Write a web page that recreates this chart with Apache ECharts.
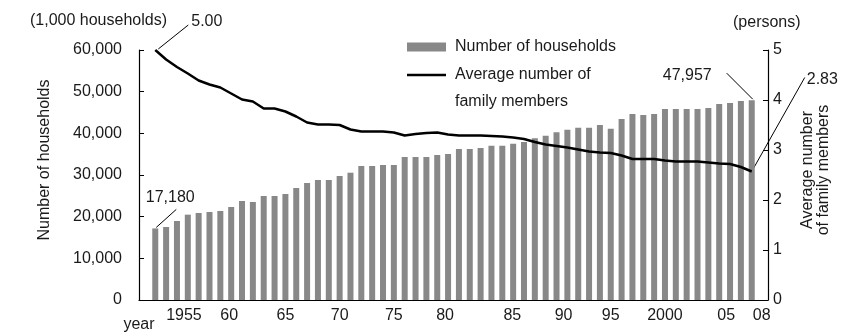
<!DOCTYPE html>
<html><head><meta charset="utf-8">
<script src="https://cdn.jsdelivr.net/npm/echarts@6/dist/echarts.min.js"></script>
<style>html,body{margin:0;padding:0;background:#fff}#c{width:846px;height:334px}</style>
</head><body><div id="c"></div>
<script>
const years = [];
for (let y = 1953; y <= 2008; y++) years.push(y);
const households = [17180,17520,18960,20480,20880,21120,21360,22320,23760,23520,
  24960,24960,25440,26880,28080,28800,28800,29760,30550,32160,
  32160,32400,32400,34320,34320,34320,34800,35040,36240,36240,
  36480,37030,37030,37510,37920,38800,39430,40250,40880,41360,
  41360,42000,41120,43440,44640,44400,44640,45840,45840,45840,
  45840,46080,47040,47280,47760,47957];
const members = [5.00,4.81,4.66,4.53,4.39,4.31,4.25,4.13,4.01,3.97,
  3.83,3.83,3.77,3.67,3.55,3.51,3.51,3.50,3.41,3.37,
  3.37,3.37,3.35,3.29,3.32,3.34,3.35,3.31,3.29,3.29,
  3.29,3.28,3.27,3.25,3.22,3.16,3.11,3.08,3.05,3.01,
  2.97,2.95,2.94,2.89,2.82,2.82,2.82,2.79,2.77,2.77,
  2.77,2.75,2.73,2.72,2.66,2.57];
const labelYears = [1955,1960,1965,1970,1975,1980,1985,1990,1995,2000,2005,2008];
const tickLabels = ['1955','60','65','70','75','80','85','90','95','2000','05','08'];
const leftTicks = [0,10000,20000,30000,40000,50000,60000];
const rightTicks = [0,1,2,3,4,5];
const annot = {first:'17,180', last:'47,957', firstAvg:'5.00', lastAvg:'2.83'};

// small horizontal nudges of the year labels, as in the source figure (px)
const labelNudge = {'1955': 7, '60': -2, '80': -3, '85': 10, '90': 7, '05': 7, '08': 10};

const FONT = "'Liberation Sans', Arial, sans-serif";
const TXT = '#1a1a1a';
const cats = [String(years[0]-1)].concat(years.map(String), [String(years[years.length-1]+1)]);
const barData = ['-'].concat(households, ['-']);
const lineData = ['-'].concat(members, ['-']);

const rich = {};
Object.keys(labelNudge).forEach((k, i) => {
  const d = labelNudge[k];
  rich['n' + i] = {fontFamily: FONT, fontSize: 16, color: TXT,
    padding: d > 0 ? [0, 0, 0, 2*d] : [0, -2*d, 0, 0]};
});
const nudgeKeys = Object.keys(labelNudge);

const chart = echarts.init(document.getElementById('c'));
chart.setOption({
  animation: false,
  textStyle: {fontFamily: FONT, color: TXT},
  grid: {left: 139, right: 78, top: 50, bottom: 34},
  legend: {
    left: 407, top: 38, padding: 0, orient: 'vertical', itemWidth: 39, itemHeight: 9, itemGap: 10,
    textStyle: {fontFamily: FONT, fontSize: 16, color: TXT, lineHeight: 18, padding: [0,0,0,4]},
    data: [
      {name: 'Number of households', icon: 'rect'},
      {name: 'Average number of family members', icon: 'path://M0 0H39V2.6H0Z'}
    ],
    formatter: n => n === 'Average number of family members' ? 'Average number of' : n
  },
  xAxis: {
    type: 'category', data: cats, boundaryGap: true,
    axisLine: {lineStyle: {color: '#000', width: 1.2}},
    axisTick: {show: false},
    axisLabel: {
      fontFamily: FONT, fontSize: 16, color: TXT, margin: 8,
      interval: (i, v) => labelYears.indexOf(+v) >= 0,
      formatter: v => {
        const k = labelYears.indexOf(+v);
        if (k < 0) return '';
        const t = tickLabels[k];
        const j = nudgeKeys.indexOf(t);
        return j >= 0 ? '{n' + j + '|' + t + '}' : t;
      },
      rich
    }
  },
  yAxis: [{
    type: 'value', min: leftTicks[0], max: leftTicks[leftTicks.length-1], interval: 10000,
    name: 'Number of households', nameLocation: 'middle', nameGap: 86, nameRotate: 90,
    nameTextStyle: {fontFamily: FONT, fontSize: 16, color: TXT, padding: [0,0,0,30]},
    axisLine: {show: true, lineStyle: {color: '#000', width: 1.2}},
    axisTick: {show: true, inside: true, length: 5, lineStyle: {color: '#000'}},
    splitLine: {show: false},
    axisLabel: {fontFamily: FONT, fontSize: 16, color: TXT, margin: 17,
      formatter: v => v.toLocaleString('en-US')}
  }, {
    type: 'value', min: rightTicks[0], max: rightTicks[rightTicks.length-1], interval: 1,
    position: 'right',
    name: 'Average number\nof family members', nameLocation: 'middle', nameGap: 32, nameRotate: 90,
    nameTextStyle: {fontFamily: FONT, fontSize: 16, color: TXT, lineHeight: 16, padding: [0,0,0,10]},
    axisLine: {show: true, lineStyle: {color: '#000', width: 1.2}},
    axisTick: {show: true, inside: true, length: 5, lineStyle: {color: '#000'}},
    splitLine: {show: false},
    axisLabel: {fontFamily: FONT, fontSize: 16, color: TXT, margin: 5}
  }],
  series: [{
    name: 'Number of households', type: 'bar', data: barData, barWidth: 6,
    itemStyle: {color: '#888888'}, yAxisIndex: 0
  }, {
    name: 'Average number of family members', type: 'line', data: lineData, yAxisIndex: 1,
    symbol: 'none', showSymbol: false, lineStyle: {color: '#000', width: 2.5}, itemStyle: {color: '#000'}
  }]
});

function px(si, idx, val) { return chart.convertToPixel({seriesIndex: si}, [idx, val]); }
const n = years.length;
const aB1 = px(0, 1, households[0]);
const aBn = px(0, n, households[n-1]);
const aL1 = px(1, 1, members[0]);
const aLn = px(1, n, members[n-1]);
const ln = (x1,y1,x2,y2) => ({type:'line', shape:{x1,y1,x2,y2}, style:{stroke:'#000', lineWidth:1}, silent:true});
const tx = (x,y,t,align) => ({type:'text', x, y, style:{text:t, fill:TXT, font:"16px "+FONT, textAlign:align||'left', textVerticalAlign:'middle'}, silent:true});
chart.setOption({graphic: [
  ln(aL1[0]+3, aL1[1]-1, aL1[0]+33, aL1[1]-25), tx(aL1[0]+36, aL1[1]-28, annot.firstAvg),
  ln(aB1[0]+1, aB1[1]-1, aB1[0]+21, aB1[1]-19), tx(aB1[0]+15, aB1[1]-31, annot.first, 'center'),
  ln(aBn[0]+1, aBn[1]-1, aBn[0]-25, aBn[1]-27), tx(aBn[0]-40, aBn[1]-25, annot.last, 'right'),
  ln(aLn[0], aLn[1], aLn[0]+53, aLn[1]-94), tx(aLn[0]+55, aLn[1]-92, annot.lastAvg),
  tx(30, 21, '(1,000 households)'),
  tx(733, 23, '(persons)'),
  tx(139, 325, 'year', 'center'),
  tx(455, 102, 'family members')
]});
</script></body></html>
